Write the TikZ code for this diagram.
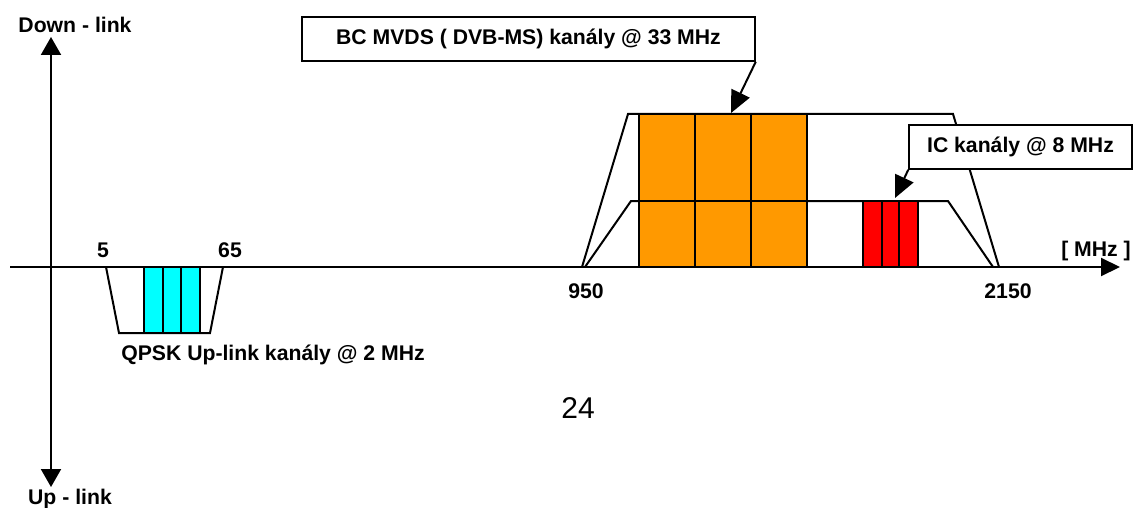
\documentclass[tikz,border=0pt]{standalone}
\usepackage{fontspec}
\setmainfont{Liberation Sans}
\usetikzlibrary{arrows.meta}
\definecolor{bcorange}{HTML}{FF9900}
\definecolor{icred}{HTML}{FF0000}
\definecolor{upcyan}{HTML}{00FFFF}
\begin{document}
\begin{tikzpicture}[x=1pt,y=-1pt,
  lbl/.style={font=\fontsize{21.2}{24}\selectfont\bfseries, inner sep=0pt},
  axis/.style={line width=2pt},
  band/.style={line width=2pt, line join=miter},
  chan/.style={draw=black, line width=1.5pt},
  callout/.style={draw, fill=white, line width=1.5pt, inner sep=0pt,
    font=\fontsize{21.2}{24}\selectfont\bfseries},
  pointer/.style={line width=2pt, -{Triangle[length=22pt,width=20pt]}},
]
\useasboundingbox (0,0) rectangle (1134,508);

% axes
\coordinate (ytop) at (51,37);
\coordinate (ybot) at (51,487);
\coordinate (xl) at (10,267);
\coordinate (xr) at (1120,267);
\draw[axis, {Triangle[length=18pt,width=20pt]}-{Triangle[length=18pt,width=20pt]}] (ytop) -- (ybot);
\draw[axis, -{Triangle[length=19pt,width=18pt]}] (xl) -- (xr);

% up-link band below the axis
\draw[band] (106,267) -- (119,333) -- (210,333) -- (223,267);
\foreach \a/\b in {144/163,163/181,181/200}
  \draw[chan, fill=upcyan] (\a,267) rectangle (\b,333);

% down-link bands above the axis
\draw[band] (582,267) -- (628,114) -- (953,114) -- (999,267);
\draw[band] (585,267) -- (631,201) -- (948,201) -- (993,267);
\foreach \a/\b in {639/695,695/751,751/807} {
  \draw[chan, fill=bcorange] (\a,114) rectangle (\b,201);
  \draw[chan, fill=bcorange] (\a,201) rectangle (\b,267);
}
\foreach \a/\b in {863/882,882/899,899/918}
  \draw[chan, fill=icred] (\a,201) rectangle (\b,267);

% callouts
\node[callout, minimum width=453pt, minimum height=44pt] (bcbox) at (528.5,39)
  {BC MVDS ( DVB-MS) kanály @ 33 MHz};
\node[callout, minimum width=223pt, minimum height=44pt] (icbox) at (1020.5,147)
  {IC kanály @ 8 MHz};
\coordinate (bctip) at (731,113);
\coordinate (ictip) at (895,198);
\draw[pointer] (bcbox.south east) -- (bctip);
\draw[pointer] (icbox.south west) -- (ictip);

% labels
\node[lbl] (down) at (75,25) {Down - link};
\node[lbl] (up) at (70,499) {Up - link};
\node[lbl] (f5) at (103,250) {5};
\node[lbl] (f65) at (230,250) {65};
\node[lbl] (f950) at (586,291) {950};
\node[lbl] (f2150) at (1008,291) {2150};
\node[lbl] (unit) at (1096,251) {[ MHz ]};
\node[lbl] (qpsk) at (273,355) {QPSK Up-link kanály @ 2 MHz};
\node[inner sep=0pt, font=\fontsize{30}{34}\selectfont] (page) at (578,408) {24};
\end{tikzpicture}
\end{document}
